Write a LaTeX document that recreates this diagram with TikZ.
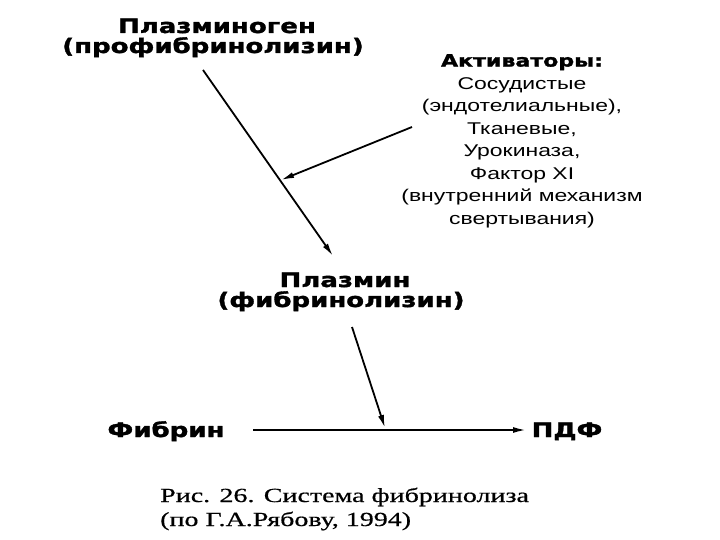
\documentclass[tikz,border=0pt]{standalone}
\usepackage{fontspec}
\usetikzlibrary{arrows.meta}
\newfontfamily\heavyfont[FakeStretch=1.3,FakeBold=1.6]{DejaVu Sans Bold}
\newfontfamily\plainfont[FakeStretch=1.35]{Liberation Sans}
\newfontfamily\capfont[FakeStretch=1.4,FakeBold=0.6]{Liberation Serif}
\tikzset{
  heavy/.style={font=\heavyfont\fontsize{20}{21}\selectfont, align=center, inner sep=0pt, anchor=base},
  plain/.style={font=\plainfont\fontsize{17}{22.5}\selectfont, align=center, inner sep=0pt},
  captxt/.style={font=\capfont\fontsize{20}{24}\selectfont, align=left, inner sep=0pt, anchor=base west},
  arr/.style={draw=black, line width=1.8pt, -{Latex[length=13pt,width=6pt]}}
}
\begin{document}
\begin{tikzpicture}[x=1pt,y=-1pt]
\useasboundingbox[fill=white] (0,0) rectangle (720,540);
\node[heavy] (pg1) at (217,33) {Плазминоген};
\node[heavy] (pg2) at (213,53) {(профибринолизин)};
\node[plain, anchor=north] (act) at (522,54) {{\heavyfont\fontsize{17}{22.5}\selectfont Активаторы:}\\Сосудистые\\(эндотелиальные),\\Тканевые,\\Урокиназа,\\Фактор XI\\(внутренний механизм\\свертывания)};
\node[heavy] (pl1) at (345,287) {Плазмин};
\node[heavy] (pl2) at (341,307) {(фибринолизин)};
\node[heavy] (fb) at (166,437) {Фибрин};
\node[heavy] (pdf) at (567,437) {ПДФ};
\node[captxt] (cap1) at (160,502) {Рис. 26. Система фибринолиза};
\node[captxt] (cap2) at (160,526) {(по Г.А.Рябову, 1994)};
\coordinate (m0) at (203,70);
\coordinate (m1) at (333,256);
\coordinate (a0) at (412,127);
\coordinate (a1) at (281,180);
\coordinate (p0) at (352,327);
\coordinate (p1) at (385,428);
\coordinate (f0) at (253,430);
\coordinate (f1) at (526,430);
\draw[arr] (m0) -- (m1);
\draw[arr] (a0) -- (a1);
\draw[arr] (p0) -- (p1);
\draw[arr] (f0) -- (f1);
\end{tikzpicture}
\end{document}
